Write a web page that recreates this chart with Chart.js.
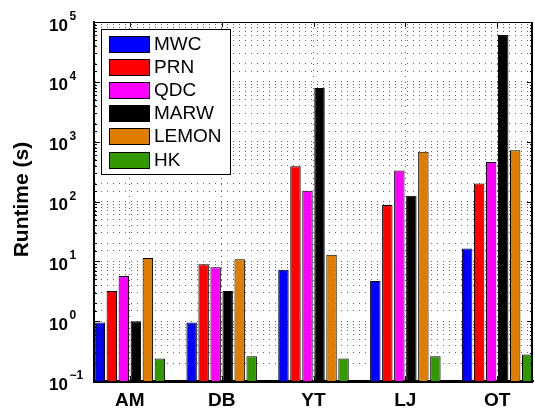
<!DOCTYPE html>
<html>
<head>
<meta charset="utf-8">
<script src="https://cdn.jsdelivr.net/npm/chart.js@4/dist/chart.umd.min.js"></script>
<style>
  html, body { margin: 0; padding: 0; background: #fff; }
  #wrap { width: 535px; height: 410px; }
</style>
</head>
<body>
<div id="wrap"><canvas id="c" width="535" height="410"></canvas></div>
<script>
// Runtime (seconds) per dataset and algorithm
const categories = ['AM', 'DB', 'YT', 'LJ', 'OT'];
const seriesNames = ['MWC', 'PRN', 'QDC', 'MARW', 'LEMON', 'HK'];
const mwc   = [0.96, 0.96, 7.3, 4.7, 16.4];
const prn   = [3.2, 9.0, 389, 88, 200];
const qdc   = [5.7, 8.0, 152, 330, 460];
const marw  = [1.0, 3.2, 7870, 125, 60800];
const lemon = [11.4, 10.9, 12.9, 680, 720];
const hk    = [0.24, 0.26, 0.24, 0.26, 0.28];
const yExponents = [-1, 0, 1, 2, 3, 4, 5];
const yTitle = 'Runtime (s)';

const seriesValues = [mwc, prn, qdc, marw, lemon, hk];
const seriesColors = ['#0000ff', '#ff0000', '#ff00ff', '#000000', '#df7d00', '#339900'];

const FONT = '"Liberation Sans", Arial, Helvetica, sans-serif';
const GRID = 'rgba(0,0,0,0.6)';

// Axis labels, frame, inward tick marks and the boxed legend
const decorations = {
  id: 'decorations',
  afterDatasetsDraw(chart) {
    const { ctx, chartArea: a, scales: { x, y } } = chart;
    ctx.save();
    ctx.strokeStyle = '#000';
    // inward ticks on the y axis (left and right)
    y.ticks.forEach(t => {
      const py = Math.round(y.getPixelForValue(t.value)) + 0.5;
      const lg = Math.log10(t.value);
      const major = Math.abs(lg - Math.round(lg)) < 1e-6;
      const len = major ? 6 : 3;
      ctx.lineWidth = 1;
      ctx.beginPath();
      ctx.moveTo(a.left, py); ctx.lineTo(a.left + len, py);
      ctx.moveTo(a.right, py); ctx.lineTo(a.right - len, py);
      ctx.stroke();
    });
    // inward ticks on the x axis (top and bottom)
    x.ticks.forEach(t => {
      const px = Math.round(x.getPixelForValue(t.value)) + 0.5;
      ctx.beginPath();
      ctx.moveTo(px, a.top); ctx.lineTo(px, a.top + 5);
      ctx.moveTo(px, a.bottom); ctx.lineTo(px, a.bottom - 5);
      ctx.stroke();
    });
    // frame
    const L = Math.round(a.left), R = Math.round(a.right);
    const T = Math.round(a.top), B = Math.round(a.bottom);
    ctx.lineWidth = 1;
    ctx.beginPath(); ctx.moveTo(L, T + 0.5); ctx.lineTo(R, T + 0.5); ctx.stroke();
    ctx.lineWidth = 2;
    ctx.beginPath(); ctx.moveTo(R - 1, T); ctx.lineTo(R - 1, B); ctx.stroke();
    ctx.beginPath(); ctx.moveTo(L, T); ctx.lineTo(L, B + 1); ctx.lineTo(R, B + 1); ctx.stroke();
    ctx.restore();
  },
  afterDraw(chart) {
    const { ctx, chartArea: a, scales: { y } } = chart;
    ctx.save();
    ctx.fillStyle = '#000';
    // y tick labels as powers of ten
    ctx.textAlign = 'left';
    ctx.textBaseline = 'alphabetic';
    yExponents.forEach(e => {
      const py = y.getPixelForValue(Math.pow(10, e));
      ctx.font = 'bold 17px ' + FONT;
      const x0 = 49;
      ctx.fillText('10', x0, py + 8.5);
      const w = ctx.measureText('10').width;
      ctx.font = 'bold 12px ' + FONT;
      const ex = e < 0 ? '\u2212' + Math.abs(e) : String(e);
      ctx.fillText(ex, x0 + w + 1.5, py - 2);
    });
    // y axis title
    ctx.save();
    ctx.translate(22, (a.top + a.bottom) / 2 - 2);
    ctx.rotate(-Math.PI / 2);
    ctx.textAlign = 'center';
    ctx.textBaseline = 'middle';
    ctx.font = 'bold 21px ' + FONT;
    ctx.fillText(yTitle, 0, 0);
    ctx.restore();

    // legend box
    const ds = chart.data.datasets;
    const bx = a.left + 7, by = a.top + 7;
    const bw = 129, bh = 145;
    ctx.fillStyle = '#fff';
    ctx.fillRect(bx, by, bw, bh);
    ctx.strokeStyle = '#000';
    ctx.lineWidth = 1;
    ctx.strokeRect(Math.round(bx) + 0.5, Math.round(by) + 0.5, bw, bh);
    ctx.font = '19px ' + FONT;
    ctx.textAlign = 'left';
    ctx.textBaseline = 'middle';
    ds.forEach((d, i) => {
      const sy = Math.round(by + 6.5 + i * 23.2);
      const sx = Math.round(bx + 8);
      ctx.fillStyle = d.backgroundColor;
      ctx.fillRect(sx, sy, 41, 17);
      ctx.strokeStyle = '#000';
      ctx.strokeRect(sx + 0.5, sy + 0.5, 40, 16);
      ctx.fillStyle = '#000';
      ctx.fillText(d.label, sx + 45, sy + 9);
    });
    ctx.restore();
  }
};

new Chart(document.getElementById('c'), {
  type: 'bar',
  data: {
    datasets: seriesNames.map((name, k) => ({
      label: name,
      data: seriesValues[k].map((v, i) => ({ x: i + 1, y: v })),
      backgroundColor: seriesColors[k],
      borderColor: '#000',
      borderWidth: 1,
      categoryPercentage: 0.785,
      barPercentage: 0.87
    }))
  },
  options: {
    responsive: false,
    animation: false,
    devicePixelRatio: 1,
    layout: { padding: { left: 94, right: 2, top: 22, bottom: -10 } },
    plugins: { legend: { display: false }, tooltip: { enabled: false } },
    scales: {
      x: {
        type: 'linear',
        offset: false,
        min: 0.61,
        max: 5.39,
        afterBuildTicks: s => { s.ticks = categories.map((c, i) => ({ value: i + 1 })); },
        ticks: {
          callback: v => categories[Math.round(v) - 1] || '',
          font: { family: FONT, size: 19, weight: 'bold' },
          color: '#000',
          padding: 8,
          maxRotation: 0,
          autoSkip: false
        },
        grid: { color: GRID, lineWidth: 1, drawTicks: false, offset: false },
        border: { color: '#000', width: 2, dash: [1, 5] }
      },
      y: {
        type: 'logarithmic',
        min: 0.1,
        max: 100000,
        ticks: { display: false },
        grid: { color: GRID, lineWidth: 1, drawTicks: false },
        border: { color: '#000', width: 2, dash: [1, 5] }
      }
    }
  },
  plugins: [decorations]
});
</script>
</body>
</html>
